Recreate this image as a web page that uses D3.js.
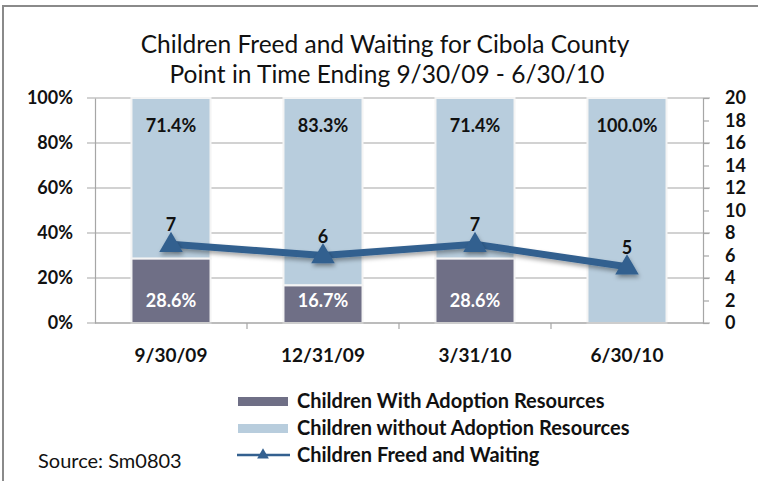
<!DOCTYPE html>
<html>
<head>
<meta charset="utf-8">
<script src="https://cdn.jsdelivr.net/npm/d3@7"></script>
<style>
  body { margin: 0; background: #fff; }
  svg text { font-family: Lato, "Open Sans", sans-serif; }
</style>
</head>
<body>
<script>
var categories = ["9/30/09", "12/31/09", "3/31/10", "6/30/10"];
var withResources = [28.6, 16.7, 28.6, 0];
var withoutResources = [71.4, 83.3, 71.4, 100.0];
var freedWaiting = [7, 6, 7, 5];
var pctTicks = [0, 20, 40, 60, 80, 100];
var countTicks = [0, 2, 4, 6, 8, 10, 12, 14, 16, 18, 20];

var W = 758, H = 481;
var margin = {top: 98, right: 55, bottom: 158, left: 95},
    width = W - margin.left - margin.right,
    height = H - margin.top - margin.bottom;

var darkColor = "#6f6f86", lightColor = "#b8cddd", lineColor = "#33608f";

var svg = d3.select("body").append("svg")
  .attr("width", W).attr("height", H);

var defs = svg.append("defs");
var f = defs.append("filter").attr("id", "shadow").attr("x", "-50%").attr("y", "-50%").attr("width", "200%").attr("height", "200%");
f.append("feDropShadow").attr("dx", 1).attr("dy", 3).attr("stdDeviation", 2).attr("flood-color", "#000").attr("flood-opacity", 0.35);

// outer border (only top and left visible)
svg.append("rect")
  .attr("x", 3).attr("y", 6).attr("width", W + 10).attr("height", H + 10)
  .attr("fill", "none").attr("stroke", "#8a8a8a").attr("stroke-width", 2);

svg.append("text")
  .attr("x", 385).attr("y", 53)
  .attr("text-anchor", "middle")
  .style("font-size", "24.5px").style("fill", "#111")
  .text("Children Freed and Waiting for Cibola County");
svg.append("text")
  .attr("x", 387).attr("y", 83)
  .attr("text-anchor", "middle")
  .style("font-size", "24.5px").style("fill", "#111")
  .text("Point in Time Ending 9/30/09 - 6/30/10");

var g = svg.append("g").attr("transform", "translate(" + margin.left + "," + margin.top + ")");

var x = d3.scaleBand().domain(categories).range([0, width]).paddingInner(0.48).paddingOuter(0.24);
var yPct = d3.scaleLinear().domain([0, 100]).range([height, 0]);
var yCnt = d3.scaleLinear().domain([0, 20]).range([height, 0]);

var lblFont = "18px";

// gridlines
g.selectAll(".grid").data(pctTicks).enter().append("line")
  .attr("x1", -8).attr("x2", width + 7)
  .attr("y1", d => yPct(d)).attr("y2", d => yPct(d))
  .attr("stroke", "#a6a6a6").attr("stroke-width", 1.2);

// left axis
var yAxisL = d3.axisLeft(yPct).tickValues(pctTicks).tickFormat(d => d + "%").tickSize(0).tickPadding(22);
var gl = g.append("g").call(yAxisL);
gl.select(".domain").attr("stroke", "#a6a6a6").attr("stroke-width", 1.2);
gl.selectAll("text").style("font-size", lblFont).style("font-weight", "bold").style("fill", "#111")
  .attr("font-family", null);

// right axis
var yAxisR = d3.axisRight(yCnt).tickValues(countTicks).tickSize(6).tickPadding(16);
var gr = g.append("g").attr("transform", "translate(" + width + ",0)").call(yAxisR);
gr.select(".domain").attr("stroke", "#a6a6a6").attr("stroke-width", 1.2);
gr.selectAll(".tick line").attr("stroke", "#a6a6a6").attr("stroke-width", 1.2);
gr.selectAll("text").style("font-size", lblFont).style("font-weight", "bold").style("fill", "#111")
  .attr("font-family", null);

// bars
var stacked = categories.map((c, i) => ({cat: c, a: withResources[i], b: withoutResources[i]}));
var bars = g.selectAll(".bar").data(stacked).enter().append("g");
bars.append("rect")
  .attr("x", d => x(d.cat)).attr("width", x.bandwidth())
  .attr("y", d => yPct(d.a + d.b)).attr("height", d => yPct(d.a) - yPct(d.a + d.b))
  .attr("fill", lightColor).attr("stroke", "#f4f4f4").attr("stroke-width", 2);
bars.filter(d => d.a > 0).append("rect")
  .attr("x", d => x(d.cat)).attr("width", x.bandwidth())
  .attr("y", d => yPct(d.a)).attr("height", d => height - yPct(d.a))
  .attr("fill", darkColor).attr("stroke", "#f4f4f4").attr("stroke-width", 2);

bars.append("text")
  .attr("x", d => x(d.cat) + x.bandwidth() / 2)
  .attr("y", d => yPct(d.a + d.b) + 34)
  .attr("text-anchor", "middle")
  .style("font-size", lblFont).style("font-weight", "bold").style("fill", "#111")
  .text(d => d.b.toFixed(1) + "%");
bars.filter(d => d.a > 0).append("text")
  .attr("x", d => x(d.cat) + x.bandwidth() / 2)
  .attr("y", height - 16)
  .attr("text-anchor", "middle")
  .style("font-size", lblFont).style("font-weight", "bold").style("fill", "#fff")
  .text(d => d.a.toFixed(1) + "%");

// x axis
g.append("line").attr("x1", 0).attr("x2", width).attr("y1", height).attr("y2", height)
  .attr("stroke", "#a6a6a6").attr("stroke-width", 1.2);
var step = x.step();
g.selectAll(".xtick").data(categories.slice(1)).enter().append("line")
  .attr("x1", d => x(d) - step * 0.24).attr("x2", d => x(d) - step * 0.24)
  .attr("y1", height).attr("y2", height + 6)
  .attr("stroke", "#a6a6a6").attr("stroke-width", 1.2);
g.selectAll(".xlabel").data(categories).enter().append("text")
  .attr("x", d => x(d) + x.bandwidth() / 2)
  .attr("y", height + 39)
  .attr("text-anchor", "middle")
  .style("font-size", "19px").style("font-weight", "bold").style("fill", "#111")
  .text(d => d);

// line
var pts = categories.map((c, i) => ({cat: c, v: freedWaiting[i]}));
var line = d3.line().x(d => x(d.cat) + x.bandwidth() / 2).y(d => yCnt(d.v));
g.append("path").datum(pts)
  .attr("d", line).attr("fill", "none")
  .attr("stroke", lineColor).attr("stroke-width", 7)
  .attr("filter", "url(#shadow)");
var tri = d3.symbol().type(d3.symbolTriangle).size(240);
g.selectAll(".marker").data(pts).enter().append("path")
  .attr("d", tri)
  .attr("transform", d => "translate(" + (x(d.cat) + x.bandwidth() / 2) + "," + (yCnt(d.v) + 1) + ")")
  .attr("fill", lineColor)
  .attr("filter", "url(#shadow)");
g.selectAll(".ptlabel").data(pts).enter().append("text")
  .attr("x", d => x(d.cat) + x.bandwidth() / 2)
  .attr("y", d => yCnt(d.v) - 13)
  .attr("text-anchor", "middle")
  .style("font-size", lblFont).style("font-weight", "bold").style("fill", "#111")
  .text(d => d.v);

// legend
var legendItems = [
  {name: "Children With Adoption Resources", type: "bar", color: darkColor},
  {name: "Children without Adoption Resources", type: "bar", color: lightColor},
  {name: "Children Freed and Waiting", type: "line", color: lineColor}
];
var lg = svg.append("g").attr("transform", "translate(237,401)");
legendItems.forEach(function (d, i) {
  var row = lg.append("g").attr("transform", "translate(0," + (i * 27) + ")");
  if (d.type === "bar") {
    row.append("rect").attr("x", 1).attr("y", -4).attr("width", 50).attr("height", 9).attr("fill", d.color);
  } else {
    row.append("line").attr("x1", 0).attr("x2", 53).attr("y1", 0).attr("y2", 0)
      .attr("stroke", d.color).attr("stroke-width", 2.5);
    row.append("path").attr("d", d3.symbol().type(d3.symbolTriangle).size(60))
      .attr("transform", "translate(26,0)").attr("fill", d.color);
  }
  row.append("text").attr("x", 60).attr("y", 7)
    .style("font-size", "20px").style("font-weight", "bold").style("fill", "#111")
    .text(d.name);
});

svg.append("text")
  .attr("x", 38).attr("y", 468)
  .style("font-size", "20px").style("fill", "#111")
  .text("Source: Sm0803");
</script>
</body>
</html>
